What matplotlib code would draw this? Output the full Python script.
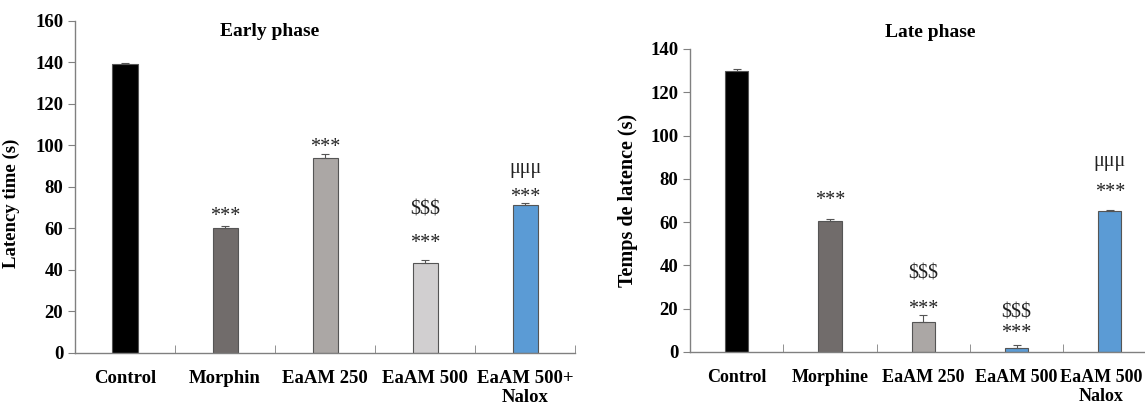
import matplotlib
matplotlib.use("Agg")
import matplotlib.pyplot as plt
import matplotlib.transforms as mtransforms
import numpy as np

plt.rcParams['font.family'] = ['Liberation Serif', 'DejaVu Serif']

# data
early_labels = ["Control", "Morphin", "EaAM 250", "EaAM 500", "EaAM 500+\nNalox"]
early_values = [139.2, 60.0, 94.2, 43.5, 71.5]
early_err = [0.5, 1.3, 1.5, 1.2, 1.0]
early_colors = ["#000000", "#716c6b", "#aba7a5", "#d1cfd0", "#5b9bd5"]

late_labels = ["Control", "Morphine", "EaAM 250", "EaAM 500", "EaAM 500\nNalox"]
late_values = [130.0, 60.5, 13.7, 1.7, 65.2]
late_err = [0.8, 0.8, 3.6, 1.4, 0.6]
late_colors = ["#000000", "#716c6b", "#aba7a5", "#5b9bd5", "#5b9bd5"]

# significance marks: (bar index, y position, text)
early_marks = [(1, 66, "***"), (2, 99, "***"), (3, 53, "***"), (3, 69, "$$$"),
               (4, 75, "***"), (4, 89, "μμμ")]
late_marks = [(1, 70, "***"), (2, 19.5, "***"), (2, 36, "$$$"), (3, 8.5, "***"),
              (3, 18, "$$$"), (4, 73.5, "***"), (4, 88, "μμμ")]

fig = plt.figure(figsize=(11.45, 4.13), dpi=100)


def draw_panel(ax, labels, values, err, colors, marks, ymax, title, ylabel, tx, ty, lsize):
    x = np.arange(len(values))
    ax.bar(x, values, width=0.25, color=colors, edgecolor="#555555", linewidth=0.8, zorder=2)
    ax.errorbar(x, values, yerr=[np.zeros(len(err)), err], fmt="none",
                ecolor="#555555", elinewidth=0.8, capsize=3, capthick=0.8, zorder=3)
    ax.set_xlim(-0.5, len(values) - 0.5)
    ax.set_ylim(0, ymax)
    ax.set_yticks(np.arange(0, ymax + 1, 20))
    ax.set_xticks(x)
    ax.set_xticklabels(labels, fontsize=lsize, fontweight="bold", linespacing=1.15)
    ax.set_xticks(np.arange(0.5, len(values), 1), minor=True)
    ax.tick_params(axis="x", which="major", length=0, pad=12)
    ax.tick_params(axis="x", which="minor", direction="in", length=6, color="#808080")
    ax.tick_params(axis="y", length=5, color="#808080", labelsize=13.5)
    for lab in ax.get_yticklabels():
        lab.set_fontweight("bold")
    for s in ["top", "right"]:
        ax.spines[s].set_visible(False)
    for s in ["left", "bottom"]:
        ax.spines[s].set_color("#808080")
        ax.spines[s].set_linewidth(1.0)
    ax.set_ylabel(ylabel, fontsize=13.5, fontweight="bold")
    ax.text(tx, ty, title, transform=ax.transAxes, ha="center", va="center",
            fontsize=14, fontweight="bold")
    for i, y, t in marks:
        ax.text(i, y, t, ha="center", va="center", fontsize=14.5, color="#222222")


ax1 = fig.add_axes([0.0655, 0.1453, 0.4367, 0.8039])
draw_panel(ax1, early_labels, early_values, early_err, early_colors, early_marks,
           160, "Early phase", "Latency time (s)", 0.39, 0.967, 13.5)
ax1.yaxis.set_label_coords(-0.11, 0.45)

ax2 = fig.add_axes([0.6026, 0.1477, 0.4074, 0.7337])
draw_panel(ax2, late_labels, late_values, late_err, late_colors, late_marks,
           140, "Late phase", "Temps de latence (s)", 0.516, 1.056, 13)
ax2.yaxis.set_label_coords(-0.112, 0.5)
ax2.yaxis.label.set_fontsize(14.5)

# keep the last label inside the canvas
last = ax2.get_xticklabels()[-1]
last.set_transform(last.get_transform() +
                   mtransforms.ScaledTranslation(-6 / 72, 0, fig.dpi_scale_trans))

fig.savefig("out.png", dpi=100)
